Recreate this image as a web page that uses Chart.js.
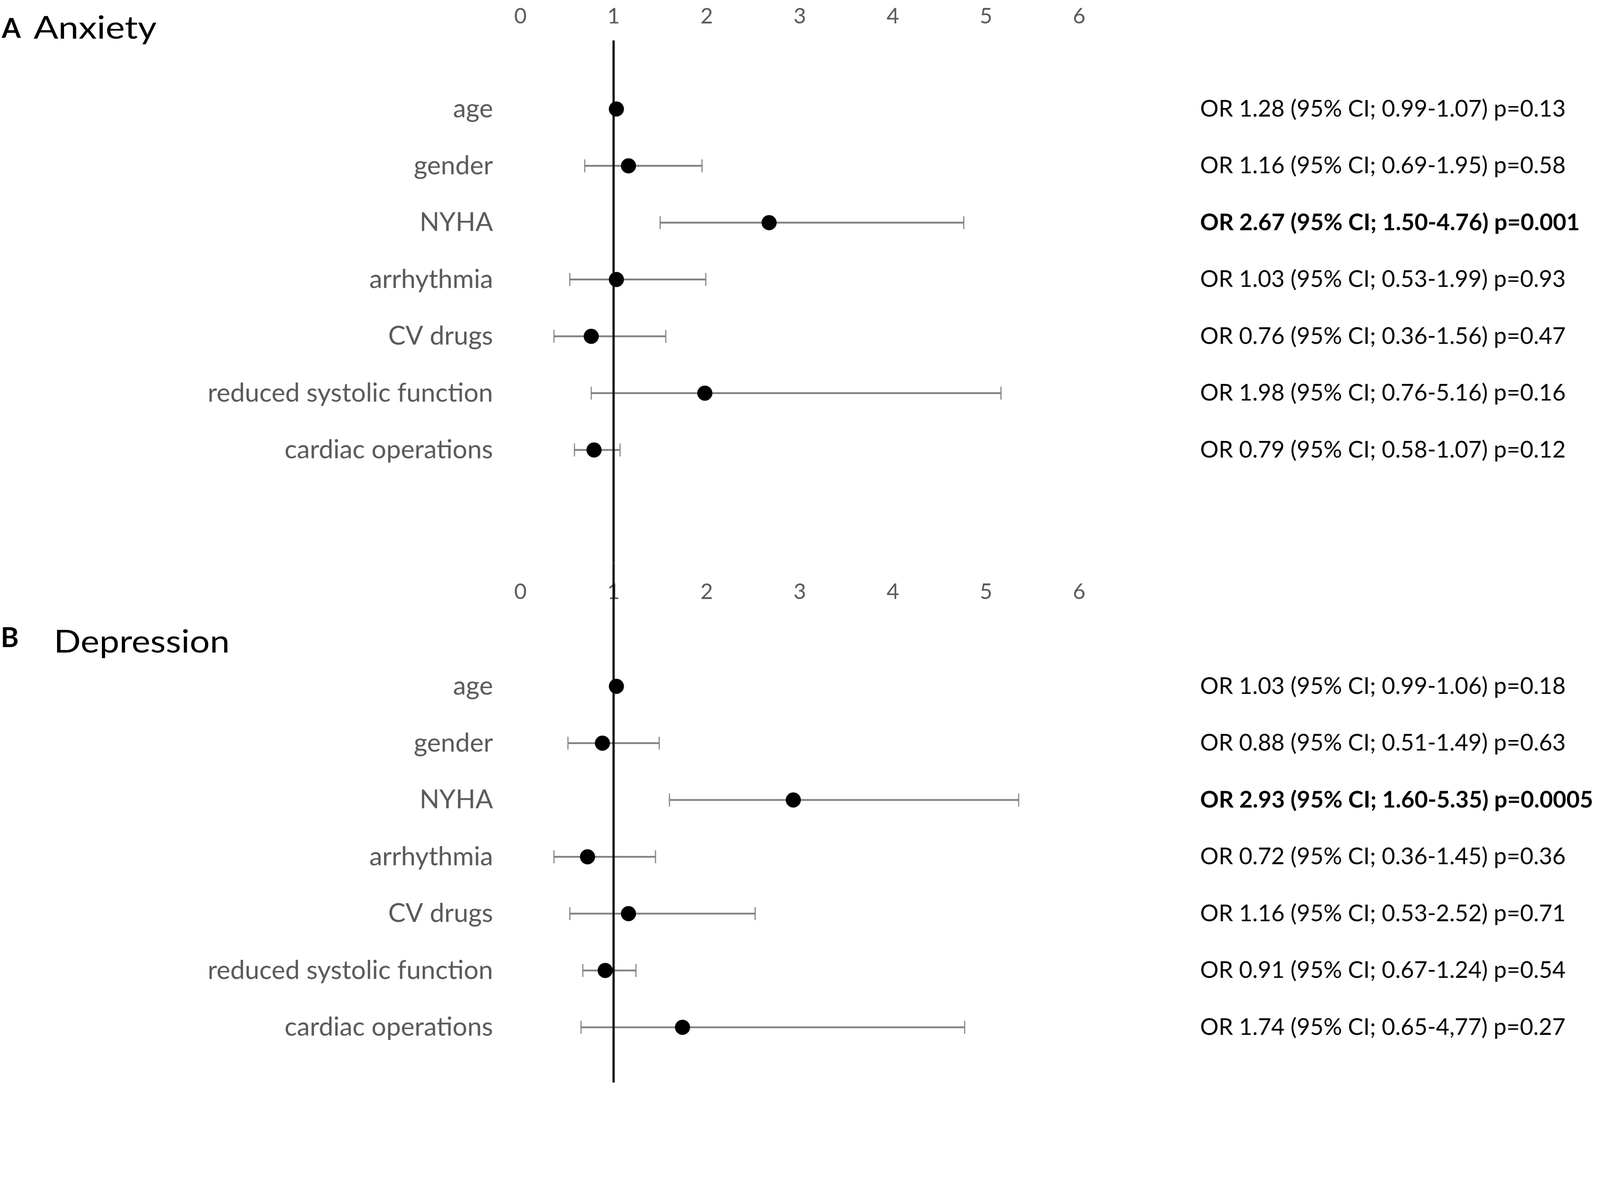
<!DOCTYPE html>
<html>
<head>
<meta charset="utf-8">
<script src="https://cdn.jsdelivr.net/npm/chart.js@4.4.1/dist/chart.umd.min.js"></script>
<style>
  html, body { margin: 0; padding: 0; background: #fff; overflow: hidden; }
  #lienzo { position: absolute; left: 0; top: 0; width: 4433px; height: 3037px; transform-origin: 0 0; font-family: Lato, sans-serif; }
  canvas { position: absolute; left: 0; display: block; }
  #chartA { top: 0; }
  #chartB { top: 1560px; }
  .tag { position: absolute; font-weight: bold; font-size: 76px; line-height: 1; color: #000; }
  .title { position: absolute; font-size: 88px; line-height: 1; color: #000; transform-origin: left top; }
</style>
</head>
<body>
<div id="lienzo">
  <div class="tag" style="left:5px; top:38px;">A</div>
  <div class="title" style="left:93px; top:29px; transform: scaleX(1.15);">Anxiety</div>
  <div class="tag" style="left:2px; top:1726px;">B</div>
  <div class="title" style="left:149px; top:1730px; transform: scaleX(1.12);">Depression</div>
  <canvas id="chartA" width="4433" height="1560"></canvas>
  <canvas id="chartB" width="4433" height="1477"></canvas>
</div>
<script>
// categorias (mismas en los dos paneles)
const categorias = ['age', 'gender', 'NYHA', 'arrhythmia', 'CV drugs', 'reduced systolic function', 'cardiac operations'];
const ticksX = [0, 1, 2, 3, 4, 5, 6];

// A: Anxiety
const orA = [1.03, 1.16, 2.67, 1.03, 0.76, 1.98, 0.79];
const bajoA = [0.99, 0.69, 1.50, 0.53, 0.36, 0.76, 0.58];
const altoA = [1.07, 1.95, 4.76, 1.99, 1.56, 5.16, 1.07];
const textosA = [
    'OR 1.28 (95% CI; 0.99-1.07) p=0.13',
    'OR 1.16 (95% CI; 0.69-1.95) p=0.58',
    'OR 2.67 (95% CI; 1.50-4.76) p=0.001',
    'OR 1.03 (95% CI; 0.53-1.99) p=0.93',
    'OR 0.76 (95% CI; 0.36-1.56) p=0.47',
    'OR 1.98 (95% CI; 0.76-5.16) p=0.16',
    'OR 0.79 (95% CI; 0.58-1.07) p=0.12'
];

// B: Depression
const orB = [1.03, 0.88, 2.93, 0.72, 1.16, 0.91, 1.74];
const bajoB = [0.99, 0.51, 1.60, 0.36, 0.53, 0.67, 0.65];
const altoB = [1.06, 1.49, 5.35, 1.45, 2.52, 1.24, 4.77];
const textosB = [
    'OR 1.03 (95% CI; 0.99-1.06) p=0.18',
    'OR 0.88 (95% CI; 0.51-1.49) p=0.63',
    'OR 2.93 (95% CI; 1.60-5.35) p=0.0005',
    'OR 0.72 (95% CI; 0.36-1.45) p=0.36',
    'OR 1.16 (95% CI; 0.53-2.52) p=0.71',
    'OR 0.91 (95% CI; 0.67-1.24) p=0.54',
    'OR 1.74 (95% CI; 0.65-4,77) p=0.27'
];
const filasNegrita = [2]; // NYHA en negrita

// geometria (en px del dibujo de 4433x3037)
const ANCHO = 4433;
const ALTO = 3037;
const PX_CERO = 1442;     // pixel del valor 0
const PX_SEIS = 2990;     // pixel del valor 6
const PASO_FILA = 157.5;
const GRIS = '#595959';
const GRIS_CI = '#808080';

// encajar el dibujo en la ventana
const escala = Math.min(window.innerWidth / ANCHO, window.innerHeight / ALTO);
document.getElementById('lienzo').style.transform = `scale(${escala})`;

// linea vertical en OR = 1
const lineaRef = {
    id: 'lineaRef',
    beforeDatasetDraw(chart, args, opts) {
        if (args.index !== 0) return;
        const ctx = chart.ctx;
        const x = chart.scales.x.getPixelForValue(1);
        const y0 = opts.desdeArriba ? 0 : chart.chartArea.top;
        const y1 = opts.hastaAbajo ? chart.height : chart.chartArea.bottom;
        ctx.save();
        ctx.strokeStyle = '#000';
        ctx.lineWidth = 6;
        ctx.beginPath();
        ctx.moveTo(x, y0);
        ctx.lineTo(x, y1);
        ctx.stroke();
        ctx.restore();
    }
};

function crearForest(id, or, bajo, alto, textos, cfg) {
    const canvas = document.getElementById(id);
    const alturaArea = canvas.height - cfg.padAbajo - cfg.altoEjeX;
    const filaCero = cfg.filaCero - cfg.altoEjeX;
    const yMin = -filaCero / PASO_FILA;
    const yMax = (alturaArea - filaCero) / PASO_FILA;

    const puntos = {
        data: or.map((v, i) => ({ x: v, y: i })),
        backgroundColor: '#000',
        borderWidth: 0,
        pointRadius: 21,
        pointHoverRadius: 21,
        order: 0
    };
    const intervalos = bajo.map((b, i) => ({
        data: [{ x: b, y: i }, { x: alto[i], y: i }],
        showLine: true,
        borderColor: GRIS_CI,
        borderWidth: 5,
        pointStyle: 'line',
        rotation: 90,
        pointRadius: 18,
        pointHoverRadius: 18,
        pointBorderWidth: 3,
        pointBorderColor: GRIS_CI,
        order: 1
    }));

    // ejes Y: ancho fijo y sin el relleno vertical que mete el padding de los ticks
    const ejeY = (pos, etiquetas, ancho, ticks) => ({
        type: 'linear',
        position: pos,
        reverse: true,
        min: yMin,
        max: yMax,
        grid: { display: false, drawTicks: false },
        border: { display: false },
        afterBuildTicks: s => { s.ticks = categorias.map((c, i) => ({ value: i })); },
        ticks: Object.assign({ autoSkip: false, callback: v => etiquetas[v] }, ticks),
        afterFit: s => {
            s.width = ancho;
            s.paddingTop = 0;
            s.paddingBottom = 0;
        }
    });

    return new Chart(canvas.getContext('2d'), {
        type: 'scatter',
        data: { datasets: [puntos].concat(intervalos) },
        options: {
            responsive: false,
            animation: false,
            devicePixelRatio: 1,
            layout: { autoPadding: false, padding: { top: 0, left: 0, right: 0, bottom: cfg.padAbajo } },
            plugins: {
                legend: { display: false },
                tooltip: { enabled: false },
                lineaRef: { desdeArriba: cfg.desdeArriba, hastaAbajo: cfg.hastaAbajo }
            },
            scales: {
                x: {
                    type: 'linear',
                    position: 'top',
                    min: 0,
                    max: 6,
                    grid: { display: false, drawTicks: false },
                    border: { display: false },
                    afterBuildTicks: s => { s.ticks = ticksX.map(v => ({ value: v })); },
                    ticks: { color: GRIS, font: { size: 60 }, padding: 30 },
                    afterFit: s => {
                        s.height = cfg.altoEjeX;
                        s.paddingLeft = 0;
                        s.paddingRight = 0;
                    }
                },
                y: ejeY('left', categorias, PX_CERO, {
                    color: GRIS, font: { size: 72 }, padding: 76
                }),
                yR: ejeY('right', textos, ANCHO - PX_SEIS, {
                    color: '#000',
                    font: c => ({ size: 64, weight: filasNegrita.includes(c.index) ? 'bold' : 'normal' }),
                    padding: 335
                })
            }
        },
        plugins: [lineaRef]
    });
}

function arrancar() {
    Chart.defaults.font.family = 'Lato';
    window.graficoA = crearForest('chartA', orA, bajoA, altoA, textosA,
        { altoEjeX: 112, filaCero: 302, padAbajo: 0, desdeArriba: false, hastaAbajo: true });
    window.graficoB = crearForest('chartB', orB, bajoB, altoB, textosB,
        { altoEjeX: 147, filaCero: 342, padAbajo: 37, desdeArriba: true, hastaAbajo: false });
}

Promise.all([
    document.fonts.load('60px Lato'),
    document.fonts.load('bold 64px Lato')
]).then(arrancar, arrancar);
</script>
</body>
</html>
